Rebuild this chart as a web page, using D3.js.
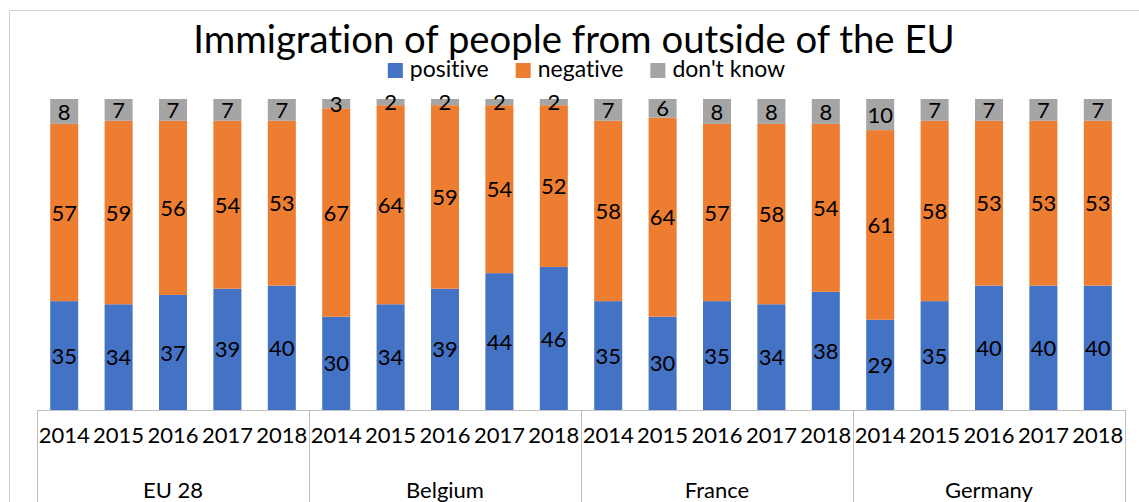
<!DOCTYPE html>
<html>
<head>
<meta charset="utf-8">
<script src="https://cdn.jsdelivr.net/npm/d3@7/dist/d3.min.js"></script>
<style>
  html, body { margin: 0; padding: 0; background: #fff; }
  svg { display: block; font-family: Lato, "Open Sans", sans-serif; font-variant-ligatures: none; }
</style>
</head>
<body>
<svg id="chart" width="1139" height="502"></svg>
<script>
// Survey answers per country and year (percent)
const countries = ["EU 28", "Belgium", "France", "Germany"];
const years = ["2014", "2015", "2016", "2017", "2018"];
const seriesNames = ["positive", "negative", "don't know"];
const seriesColors = ["#4472C4", "#ED7D31", "#A5A5A5"];

const positive = [35, 34, 37, 39, 40,  30, 34, 39, 44, 46,  35, 30, 35, 34, 38,  29, 35, 40, 40, 40];
const negative = [57, 59, 56, 54, 53,  67, 64, 59, 54, 52,  58, 64, 57, 58, 54,  61, 58, 53, 53, 53];
const dontKnow = [ 8,  7,  7,  7,  7,   3,  2,  2,  2,  2,   7,  6,  8,  8,  8,  10,  7,  7,  7,  7];

const rows = [];
countries.forEach((c, ci) => years.forEach((y, yi) => {
  const i = ci * years.length + yi;
  rows.push({ key: c + "|" + y, country: c, year: y,
              "positive": positive[i], "negative": negative[i], "don't know": dontKnow[i] });
}));

const svg = d3.select("#chart");
const W = 1139, H = 502;
const plot = { left: 37, right: 1125, top: 99, bottom: 410 };

// Outer chart frame (runs off the right and bottom edges)
svg.append("path")
  .attr("d", `M9.5,${H + 2} V10.5 H${W + 2}`)
  .attr("fill", "none").attr("stroke", "#D0D0D0").attr("stroke-width", 1);

const x = d3.scaleBand().domain(rows.map(r => r.key))
  .range([plot.left, plot.right]).paddingInner(0.485).paddingOuter(0.2425);
const y = d3.scaleLinear().domain([0, 100]).range([plot.bottom, plot.top]);

const stack = d3.stack().keys(seriesNames);
const layers = stack(rows);

const g = svg.append("g");
layers.forEach((layer, li) => {
  g.append("g").attr("fill", seriesColors[li])
    .selectAll("rect").data(layer).join("rect")
    .attr("x", d => x(d.data.key))
    .attr("width", x.bandwidth())
    .attr("y", d => y(d[1]))
    .attr("height", d => y(d[0]) - y(d[1]));
});

// Value labels, centred in each segment
layers.forEach((layer, li) => {
  g.append("g")
    .selectAll("text").data(layer).join("text")
    .attr("x", d => x(d.data.key) + x.bandwidth() / 2)
    .attr("y", d => (y(d[0]) + y(d[1])) / 2)
    .attr("dy", "0.37em")
    .attr("text-anchor", "middle")
    .attr("font-size", 22)
    .attr("fill", "#000")
    .text(d => d[1] - d[0]);
});

// Category axis: baseline, group separators, year and country labels
const axis = svg.append("g");
axis.append("line")
  .attr("x1", plot.left).attr("x2", plot.right)
  .attr("y1", plot.bottom + 0.5).attr("y2", plot.bottom + 0.5)
  .attr("stroke", "#BFBFBF");

const groupW = (plot.right - plot.left) / countries.length;
d3.range(countries.length + 1).forEach(i => {
  const gx = Math.round(plot.left + i * groupW) + 0.5;
  axis.append("line")
    .attr("x1", gx).attr("x2", gx)
    .attr("y1", plot.bottom).attr("y2", H + 2)
    .attr("stroke", "#BFBFBF");
});

axis.selectAll("text.year").data(rows).join("text")
  .attr("class", "year")
  .attr("x", d => x(d.key) + x.bandwidth() / 2)
  .attr("y", 443)
  .attr("text-anchor", "middle")
  .attr("font-size", 22)
  .attr("fill", "#000")
  .text(d => d.year);

axis.selectAll("text.country").data(countries).join("text")
  .attr("class", "country")
  .attr("x", (d, i) => plot.left + (i + 0.5) * groupW)
  .attr("y", 498)
  .attr("text-anchor", "middle")
  .attr("font-size", 22)
  .attr("fill", "#000")
  .text(d => d);

// Title
svg.append("text")
  .attr("x", 574).attr("y", 53)
  .attr("text-anchor", "middle")
  .attr("font-size", 38.3)
  .attr("fill", "#000")
  .text("Immigration of people from outside of the EU");

// Legend
const legend = svg.append("g").attr("font-size", 23);
const items = legend.selectAll("g").data(seriesNames).join("g");
items.append("rect").attr("width", 15).attr("height", 15).attr("y", -14)
  .attr("fill", (d, i) => seriesColors[i]);
items.append("text").attr("x", 22).attr("y", 0).attr("fill", "#000").text(d => d);
let cursor = 0;
items.each(function () {
  const node = d3.select(this);
  node.attr("transform", `translate(${cursor},0)`);
  cursor += this.getBBox().width + 27;
});
const legendW = cursor - 27;
legend.attr("transform", `translate(${(387 + 786) / 2 - legendW / 2},77)`);
</script>
</body>
</html>
